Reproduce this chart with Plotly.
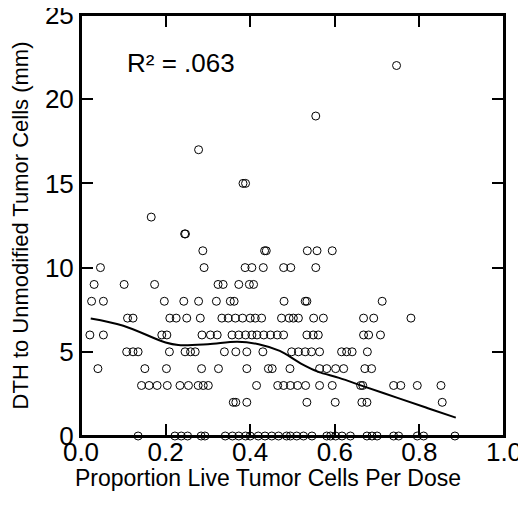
import plotly.graph_objects as go

# ---- data (x per integer DTH value) ----
x_at_0 = [0.135, 0.222, 0.237, 0.252, 0.284, 0.293, 0.341, 0.358, 0.373, 0.389, 0.400,
          0.419, 0.435, 0.451, 0.467, 0.486, 0.495, 0.510, 0.526, 0.546, 0.581, 0.590,
          0.602, 0.617, 0.637, 0.676, 0.688, 0.700, 0.739, 0.751, 0.795, 0.810, 0.884]
x_at_2 = [0.360, 0.366, 0.392, 0.534, 0.601, 0.664, 0.676, 0.854]
x_at_3 = [0.143, 0.161, 0.180, 0.204, 0.234, 0.254, 0.277, 0.289, 0.301, 0.415, 0.465,
          0.479, 0.495, 0.512, 0.531, 0.564, 0.594, 0.661, 0.666, 0.739, 0.756, 0.795, 0.851]
x_at_4 = [0.040, 0.151, 0.202, 0.285, 0.325, 0.392, 0.443, 0.452, 0.494, 0.564, 0.581,
          0.602, 0.621, 0.671, 0.687]
x_at_5 = [0.108, 0.123, 0.135, 0.209, 0.246, 0.259, 0.270, 0.339, 0.366, 0.392, 0.430,
          0.498, 0.514, 0.530, 0.545, 0.564, 0.616, 0.628, 0.641, 0.677]
x_at_6 = [0.021, 0.053, 0.191, 0.203, 0.286, 0.306, 0.322, 0.357, 0.373, 0.389, 0.404,
          0.416, 0.432, 0.448, 0.464, 0.479, 0.534, 0.549, 0.561, 0.668, 0.680, 0.708]
x_at_7 = [0.110, 0.123, 0.210, 0.225, 0.250, 0.282, 0.333, 0.348, 0.365, 0.382, 0.400,
          0.412, 0.427, 0.474, 0.492, 0.502, 0.514, 0.550, 0.573, 0.668, 0.692, 0.780]
x_at_8 = [0.025, 0.053, 0.197, 0.243, 0.278, 0.320, 0.353, 0.362, 0.480, 0.530, 0.534, 0.712]
x_at_9 = [0.031, 0.102, 0.174, 0.324, 0.336, 0.373, 0.398, 0.408]
x_at_10 = [0.046, 0.291, 0.388, 0.404, 0.431, 0.479, 0.496, 0.555]
x_at_11 = [0.288, 0.434, 0.438, 0.535, 0.558, 0.594]
x_at_12 = [0.245, 0.247]
x_at_13 = [0.166]
x_at_15 = [0.383, 0.389]
x_at_17 = [0.278]
x_at_19 = [0.555]
x_at_22 = [0.746]

rows = {0: x_at_0, 2: x_at_2, 3: x_at_3, 4: x_at_4, 5: x_at_5, 6: x_at_6, 7: x_at_7,
        8: x_at_8, 9: x_at_9, 10: x_at_10, 11: x_at_11, 12: x_at_12, 13: x_at_13,
        15: x_at_15, 17: x_at_17, 19: x_at_19, 22: x_at_22}

# smoothed (loess) curve
loess_x = [0.023, 0.10, 0.20, 0.23, 0.30, 0.37, 0.42, 0.47, 0.52, 0.56, 0.61, 0.67, 0.75, 0.82, 0.886]
loess_y = [6.98, 6.55, 5.55, 5.40, 5.45, 5.60, 5.45, 5.05, 4.30, 3.82, 3.45, 2.93, 2.25, 1.65, 1.09]

x_ticks = [0.0, 0.2, 0.4, 0.6, 0.8, 1.0]
y_ticks = [0, 5, 10, 15, 20, 25]
x_range = [0, 1]
y_range = [0, 25]

pts_x, pts_y = [], []
for yv, xs in rows.items():
    pts_x += xs
    pts_y += [yv] * len(xs)

FONT = "Liberation Sans, Arial, Helvetica, sans-serif"

fig = go.Figure()
# plot frame, built from the axis ranges
fig.add_trace(go.Scatter(
    x=[x_range[0], x_range[1], x_range[1], x_range[0], x_range[0]],
    y=[y_range[0], y_range[0], y_range[1], y_range[1], y_range[0]],
    mode="lines", cliponaxis=False, hoverinfo="skip",
    line=dict(color="black", width=2), showlegend=False))
fig.add_trace(go.Scatter(
    x=pts_x, y=pts_y, mode="markers", cliponaxis=False,
    marker=dict(symbol="circle-open", size=8, color="black", line=dict(width=1, color="black")),
    showlegend=False))
# the smooth curve is drawn on an overlaying x axis (same range) that carries the tick labels
fig.add_trace(go.Scatter(
    x=loess_x, y=loess_y, mode="lines", xaxis="x2", yaxis="y",
    line=dict(color="black", width=2, shape="spline"), showlegend=False))

tickfont = dict(family=FONT, size=26, color="black")
axis_common = dict(showline=True, linecolor="black", linewidth=2, mirror="ticks",
                   ticks="inside", ticklen=12, tickwidth=2, tickcolor="black",
                   showgrid=False, zeroline=False, automargin=False,
                   ticklabeloverflow="allow", tickfont=tickfont)

fig.update_layout(
    xaxis=dict(range=x_range, tickvals=x_ticks, showticklabels=False, **axis_common),
    xaxis2=dict(range=x_range, tickvals=x_ticks, tickformat=".1f", overlaying="x",
                anchor="free", position=0.005, side="bottom", showline=False, ticks="",
                showgrid=False, zeroline=False, automargin=False,
                ticklabeloverflow="allow", tickfont=tickfont),
    yaxis=dict(range=y_range, tickvals=y_ticks, **axis_common),
)

fig.add_annotation(text="R² = .063", xref="paper", yref="paper", x=0.104, y=0.885,
                   xanchor="left", yanchor="middle", showarrow=False,
                   font=dict(family=FONT, size=26, color="black"))
fig.add_annotation(text="Proportion Live Tumor Cells Per Dose", xref="paper", yref="paper",
                   x=0.441, y=-0.099, xanchor="center", yanchor="middle", showarrow=False,
                   font=dict(family=FONT, size=23, color="black"))
fig.add_annotation(text="DTH to Unmodified Tumor Cells (mm)", xref="paper", yref="paper",
                   x=-0.142, y=0.5, xanchor="center", yanchor="middle", textangle=-90,
                   showarrow=False, borderpad=0, font=dict(family=FONT, size=22, color="black"))

# page body has an 8px default margin; margins are shifted so the plot lands where the reference has it
fig.update_layout(width=526, height=506,
                  margin=dict(l=73, r=30, t=7, b=78, autoexpand=False),
                  plot_bgcolor="white", paper_bgcolor="white",
                  font=dict(family=FONT, color="black"))

fig.write_html("out.html")
